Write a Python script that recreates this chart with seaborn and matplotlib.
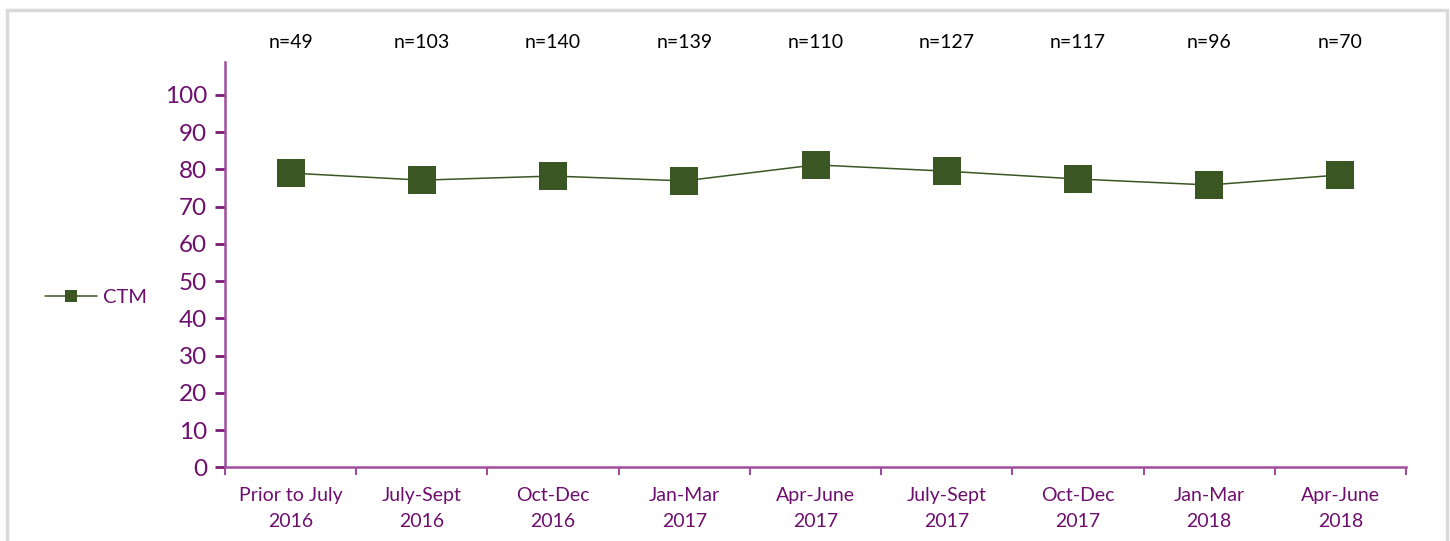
import matplotlib
matplotlib.use("Agg")
import matplotlib.pyplot as plt
from matplotlib.patches import Rectangle
from matplotlib.ticker import FixedLocator
from matplotlib.lines import Line2D
import seaborn as sns
import pandas as pd

categories = ["Prior to July\n2016", "July-Sept\n2016", "Oct-Dec\n2016", "Jan-Mar\n2017",
              "Apr-June\n2017", "July-Sept\n2017", "Oct-Dec\n2017", "Jan-Mar\n2018", "Apr-June\n2018"]
ctm_values = [79.0, 77.1, 78.2, 76.9, 81.2, 79.5, 77.4, 75.8, 78.5]
n_labels = ["n=49", "n=103", "n=140", "n=139", "n=110", "n=127", "n=117", "n=96", "n=70"]
y_ticks = [0, 10, 20, 30, 40, 50, 60, 70, 80, 90, 100]
series_name = "CTM"

sns.set_style("white")
plt.rcParams["font.family"] = ["Lato", "DejaVu Sans"]

PURPLE_TXT = "#6E0F6E"
PURPLE_AX = "#A04D9C"
GREEN = "#3A5623"

fig = plt.figure(figsize=(14.5, 5.41), dpi=100)
ax = fig.add_axes([225/1450, 1-467.3/541, (1406-225)/1450, (467.3-61.7)/541])

# outer border
fig.patches.append(Rectangle((7/1450, -0.1), (1447-7)/1450, 1.1 - 10/541,
                             transform=fig.transFigure, fill=False,
                             edgecolor="#D9D9D9", linewidth=2.5))

df = pd.DataFrame({"period": categories, "value": ctm_values, "series": series_name})
sns.lineplot(data=df, x="period", y="value", hue="series", palette=[GREEN],
             marker="s", markersize=19.5, markeredgewidth=0, linewidth=1.1,
             sort=False, ax=ax, legend=False)

ax.set_xlim(-0.5, len(categories) - 0.5)
ax.set_ylim(0, 108.9)
ax.set_xlabel("")
ax.set_ylabel("")

# y axis
ax.set_yticks(y_ticks)
ax.tick_params(axis="y", which="major", direction="out", length=7, width=2,
               color="#7A1A78", labelsize=17.5, labelcolor=PURPLE_TXT, pad=6, left=True)
# x axis: labels at centers, ticks at boundaries
ax.set_xticks(range(len(categories)))
ax.set_xticklabels(categories, fontsize=14, color=PURPLE_TXT, linespacing=1.68)
ax.tick_params(axis="x", which="major", length=0, pad=14)
ax.xaxis.set_minor_locator(FixedLocator([i - 0.5 for i in range(len(categories) + 1)]))
ax.tick_params(axis="x", which="minor", direction="out", length=6, width=1.5,
               color=PURPLE_AX, bottom=True)

for side in ["top", "right"]:
    ax.spines[side].set_visible(False)
for side in ["left", "bottom"]:
    ax.spines[side].set_color(PURPLE_AX)
    ax.spines[side].set_linewidth(1.8)

# n labels above
for i, lab in enumerate(n_labels):
    ax.text(i, 1.048, lab, transform=ax.get_xaxis_transform(), ha="center", va="center",
            fontsize=14, color="black")

# legend
h = Line2D([], [], color=GREEN, linewidth=1.1, marker="s", markersize=8, markeredgewidth=0)
fig.legend([h], [series_name], loc="center left", bbox_to_anchor=(45/1450, 1-297/541),
           bbox_transform=fig.transFigure, frameon=False, borderpad=0, borderaxespad=0,
           handlelength=2.6, handletextpad=0.3, fontsize=14.5, labelcolor=PURPLE_TXT)

fig.savefig("out.png", dpi=100, facecolor="white")
